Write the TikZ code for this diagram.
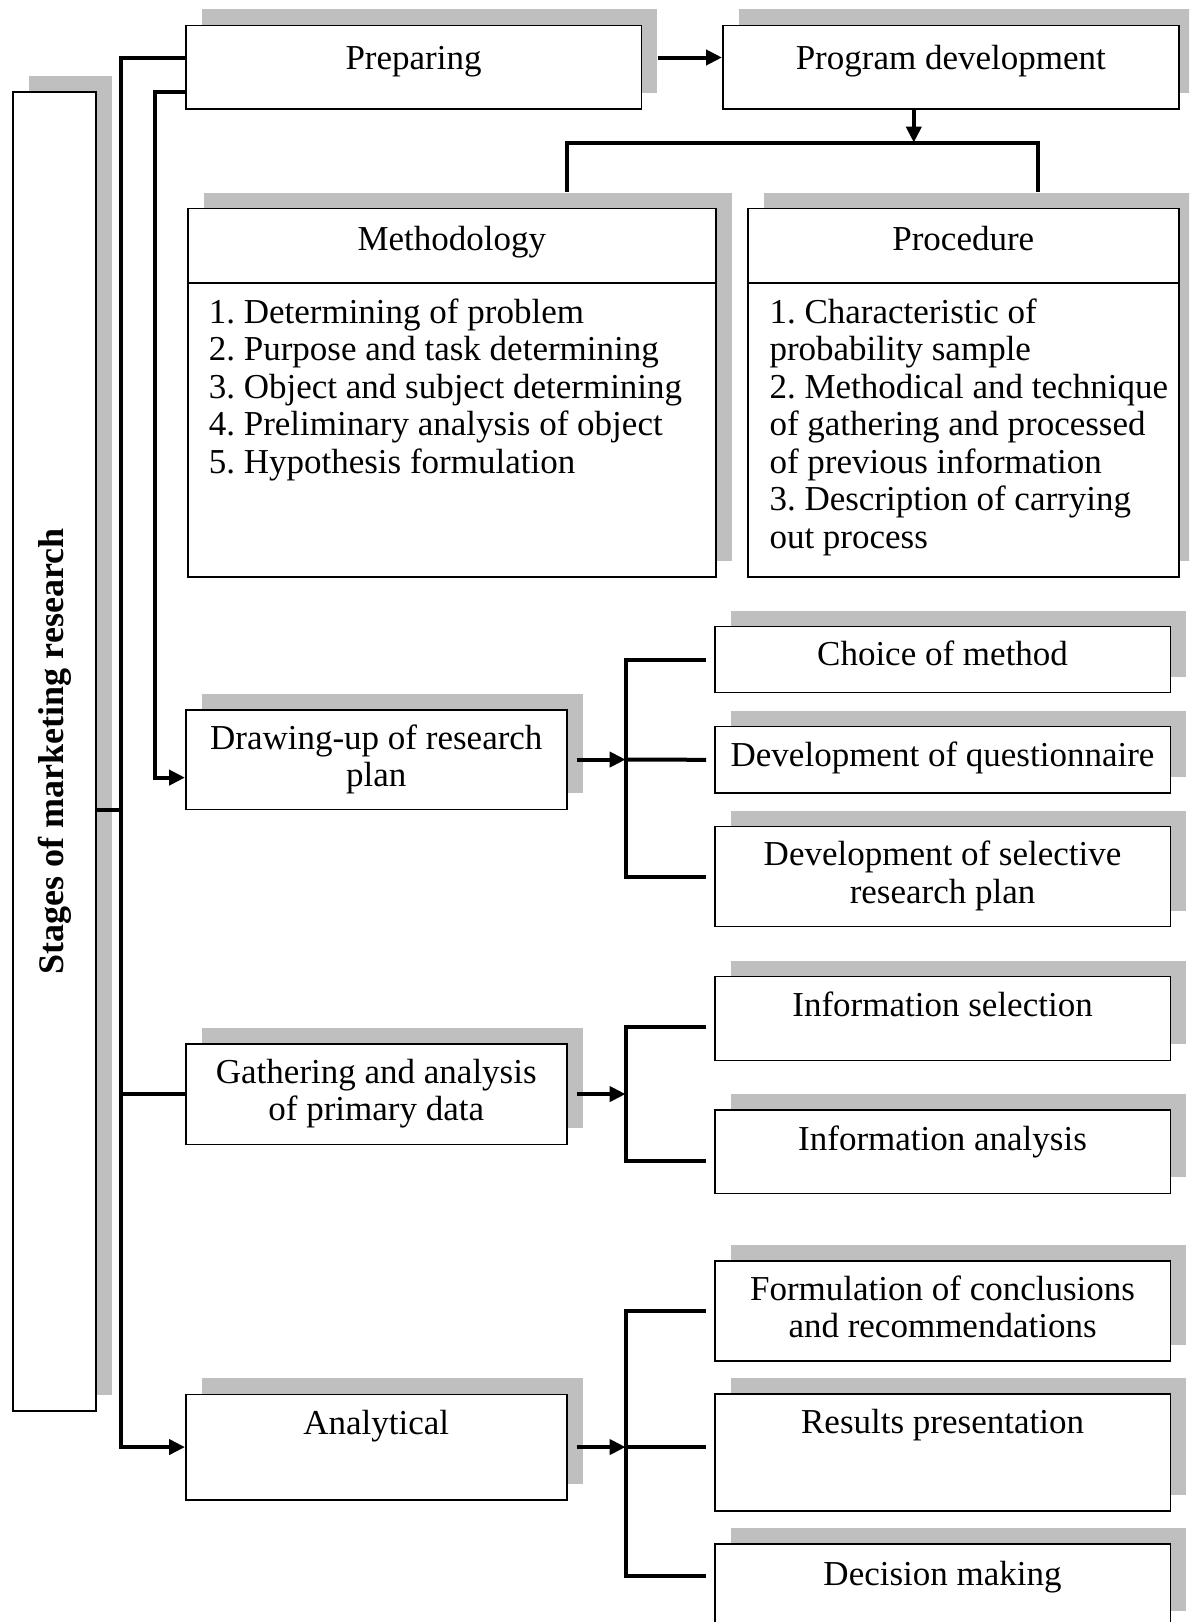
\documentclass[tikz,border=0pt]{standalone}
\usepackage{fontspec}
\setmainfont{Liberation Serif}
\usetikzlibrary{arrows.meta,shadows,calc}
\definecolor{shade}{RGB}{191,191,191}
\frenchspacing
\tikzset{
  box/.style={draw=black, line width=1.6pt, fill=white, inner sep=0pt, anchor=north west,
    drop shadow={shadow xshift=16pt, shadow yshift=16pt, fill=shade, opacity=1}},
  lbl/.style={anchor=base, inner sep=0pt, font=\fontsize{35}{37.5}\selectfont},
  sepline/.style={line width=1.6pt},
  conn/.style={line width=4pt},
  arrow/.style={conn, -{Triangle[length=16pt,width=15pt]}},
}
\begin{document}
\begin{tikzpicture}[x=1pt,y=-1pt]
\useasboundingbox (0,0) rectangle (1189,1622);
\clip (0,0) rectangle (1189,1622);

% left title box
\node[box, minimum width=83pt, minimum height=1319pt] (stages) at (12,91) {};
\node[rotate=90, inner sep=0pt, font=\bfseries\fontsize{36}{40}\selectfont] at (stages.center) {Stages of marketing research};

% top row
\node[box, minimum width=455.5pt, minimum height=83.5pt] (prep) at (185,24.5) {};
\node[box, minimum width=456pt, minimum height=83.5pt] (prog) at (722,24.5) {};
\node[lbl] at ([yshift=-44.5pt]prep.north) {Preparing};
\node[lbl] at ([yshift=-44.5pt]prog.north) {Program development};

% methodology and procedure
\node[box, minimum width=528pt, minimum height=368.3pt] (meth) at (187,207.7) {};
\node[box, minimum width=431pt, minimum height=368.3pt] (proc) at (747,207.7) {};
\draw[sepline] ([yshift=-75pt]meth.north west) -- ([yshift=-75pt]meth.north east);
\draw[sepline] ([yshift=-75pt]proc.north west) -- ([yshift=-75pt]proc.north east);
\node[lbl] at ([yshift=-43pt]meth.north) {Methodology};
\node[lbl] at ([yshift=-43pt]proc.north) {Procedure};
\node[lbl, anchor=base west] at ([shift={(21.6pt,-115.3pt)}]meth.north west)
  {\begin{tabular}[t]{@{}l@{}}
   1. Determining of problem\\
   2. Purpose and task determining\\
   3. Object and subject determining\\
   4. Preliminary analysis of object\\
   5. Hypothesis formulation
   \end{tabular}};
\node[lbl, anchor=base west] at ([shift={(22.3pt,-115.3pt)}]proc.north west)
  {\begin{tabular}[t]{@{}l@{}}
   1. Characteristic of\\
   probability sample\\
   2. Methodical and technique\\
   of gathering and processed\\
   of previous information\\
   3. Description of carrying\\
   out process
   \end{tabular}};

% stage boxes
\node[box, minimum width=381pt, minimum height=99.5pt] (draw) at (185,709) {};
\node[box, minimum width=381pt, minimum height=100.5pt] (gath) at (185,1043) {};
\node[box, minimum width=381pt, minimum height=105.5pt] (anal) at (185,1393.5) {};
\node[lbl] at ([yshift=-40pt]draw.north)
  {\begin{tabular}[t]{@{}c@{}}Drawing-up of research\\plan\end{tabular}};
\node[lbl] at ([yshift=-40pt]gath.north)
  {\begin{tabular}[t]{@{}c@{}}Gathering and analysis\\of primary data\end{tabular}};
\node[lbl] at ([yshift=-40.5pt]anal.north) {Analytical};

% detail boxes
\node[box, minimum width=455.5pt, minimum height=66pt] (choice) at (714,625.7) {};
\node[box, minimum width=455.5pt, minimum height=66.6pt] (quest) at (714,725.7) {};
\node[box, minimum width=455.5pt, minimum height=100pt] (selec) at (714,825.7) {};
\node[box, minimum width=455.5pt, minimum height=83.8pt] (isel) at (714,975.7) {};
\node[box, minimum width=455.5pt, minimum height=83.5pt] (iana) at (714,1109) {};
\node[box, minimum width=455.5pt, minimum height=100pt] (form) at (714,1260) {};
\node[box, minimum width=455.5pt, minimum height=116.7pt] (resu) at (714,1393.3) {};
\node[box, minimum width=455.5pt, minimum height=83pt] (deci) at (714,1543.3) {};
\node[lbl] at ([yshift=-39.3pt]choice.north) {Choice of method};
\node[lbl] at ([yshift=-40.3pt]quest.north) {Development of questionnaire};
\node[lbl] at ([yshift=-40pt]selec.north)
  {\begin{tabular}[t]{@{}c@{}}Development of selective\\research plan\end{tabular}};
\node[lbl] at ([yshift=-41pt]isel.north) {Information selection};
\node[lbl] at ([yshift=-41pt]iana.north) {Information analysis};
\node[lbl] at ([yshift=-40pt]form.north)
  {\begin{tabular}[t]{@{}c@{}}Formulation of conclusions\\and recommendations\end{tabular}};
\node[lbl] at ([yshift=-40pt]resu.north) {Results presentation};
\node[lbl] at ([yshift=-41.7pt]deci.north) {Decision making};

% top connectors
\coordinate (pe) at ([shift={(16pt,-33pt)}]prep.north east);
\draw[arrow] (pe) -- (pe -| prog.west);
\coordinate (bar) at ([shift={(-37pt,-33pt)}]prog.south);
\draw[arrow] ([xshift=-37pt]prog.south) -- (bar);
\coordinate (mt) at ([shift={(115pt,16pt)}]meth.north);
\coordinate (prt) at ([shift={(74.5pt,16pt)}]proc.north);
\draw[conn] (mt) |- (bar) -| (prt);

% left trunk
\coordinate (trunk) at (120.5,0);
\coordinate (branch) at (155,0);
\draw[arrow] ([yshift=-33.5pt]prep.north west) -| (trunk |- anal.west) -- (anal.west);
\draw[conn] (trunk |- gath.west) -- (gath.west);
\coordinate (st) at ([yshift=-719pt]stages.north east);
\draw[conn] (st) -- (st -| trunk);
\coordinate (dw) at ([yshift=32.5pt]draw.south west);
\draw[arrow] ([yshift=-67.2pt]prep.north west) -| (branch |- dw) -- (dw);

% drawing-up branches
\coordinate (jd) at ($(draw.east)+(58,0)$);
\draw[arrow] ([xshift=9pt]draw.east) -- (jd);
\coordinate (ch) at ([xshift=-8pt]choice.west);
\coordinate (se) at ([xshift=-8pt]selec.west);
\draw[conn] (ch) -| (jd |- se) -- (se);
\draw[conn] (jd) -- ([xshift=-8pt]quest.west);

% gathering branches
\coordinate (jg) at ($(gath.east)+(58,0)$);
\draw[arrow] ([xshift=9pt]gath.east) -- (jg);
\coordinate (is) at ([shift={(-8pt,-9pt)}]isel.west);
\coordinate (ia) at ([shift={(-8pt,-9pt)}]iana.west);
\draw[conn] (is) -| (jg |- ia) -- (ia);

% analytical branches
\coordinate (ja) at ($(anal.east)+(58,0)$);
\draw[arrow] ([xshift=9pt]anal.east) -- (ja);
\coordinate (fo) at ([xshift=-8pt]form.west);
\coordinate (de) at ([shift={(-8pt,-32.7pt)}]deci.north west);
\draw[conn] (fo) -| (ja |- de) -- (de);
\draw[conn] (ja) -- (ja -| fo);
\end{tikzpicture}
\end{document}
